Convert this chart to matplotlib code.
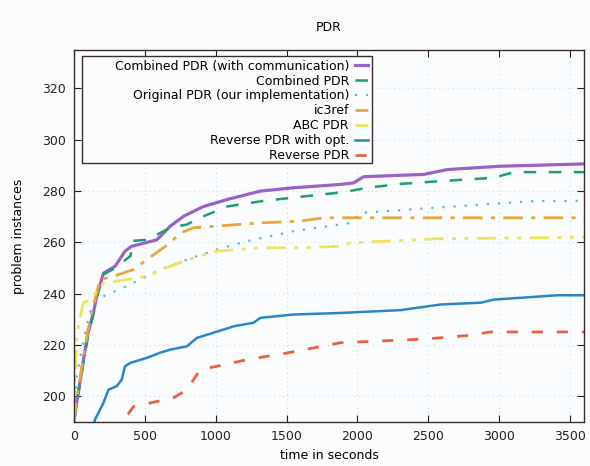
#!/usr/bin/env python3

import matplotlib
matplotlib.use("Agg")
import matplotlib.pyplot as plt
from matplotlib.patches import Rectangle

# Combined PDR (with communication)
comm_t = [0, 5, 19, 60, 100, 137, 160, 208, 290, 360, 408, 585, 679, 773, 915, 1080, 1315, 1550,
          1881, 1973, 2044, 2468, 2635, 3013, 3600]
comm_v = [190, 192, 197.5, 212, 225, 232.5, 239, 248, 250.7, 256.6, 258.5, 261, 266.3, 270.2,
          274, 276.7, 280, 281.3, 282.6, 283.2, 285.6, 286.5, 288.4, 289.7, 290.6]

# Combined PDR
comb_t = [0, 5, 19, 60, 100, 137, 160, 208, 290, 400, 410, 514, 679, 797, 915, 1080, 1315, 1598,
          1904, 2070, 2305, 2588, 2963, 3105, 3600]
comb_v = [190, 192, 197, 211, 224, 232, 238.5, 247.5, 250, 254.8, 260.6, 261, 265.7, 267, 270.2,
          274, 276, 277.8, 279.6, 281.3, 282.8, 283.9, 285.2, 287.4, 287.4]

# Original PDR (our implementation)
orig_t = [0, 10, 19, 60, 100, 135, 208, 373, 608, 797, 1009, 1221, 1550, 1881, 1952, 2023,
          2540, 3246, 3600]
orig_v = [190, 200, 207.8, 220, 230, 236.5, 239, 243, 249.4, 253.3, 257.2, 260.5, 264.4, 267,
          267.6, 271.5, 273.5, 276.1, 276.2]

# ic3ref
ic3_t = [0, 5, 19, 60, 100, 140, 184, 278, 420, 514, 679, 750, 844, 1315, 1598, 1763, 3600]
ic3_v = [190, 193, 199, 213, 226, 236, 245.5, 246.8, 249.4, 253.3, 259.8, 263.7, 265.7, 267.6,
         268.3, 269.6, 269.6]

# ABC PDR
abc_t = [0, 5, 19, 40, 66, 113, 208, 373, 514, 679, 844, 1009, 1315, 1598, 1881, 1952, 2540, 3600]
abc_v = [190, 205, 223.4, 230, 236.4, 237.7, 244.2, 245.5, 246.8, 250.7, 254, 256.6, 257.9,
         257.9, 258.5, 259.8, 261.4, 262]

# Reverse PDR with opt.
ropt_t = [130, 148, 208, 243, 302, 337, 360, 396, 514, 608, 679, 797, 868, 985, 1127, 1268, 1315,
          1551, 1881, 2305, 2588, 2871, 2963, 3413, 3600]
ropt_v = [186, 190.9, 197.5, 202.6, 204, 206.5, 211.7, 213, 215, 217, 218.2, 219.5, 222.8, 224.8,
          227.3, 228.7, 230.6, 231.9, 232.5, 233.6, 235.8, 236.5, 237.7, 239.4, 239.4]

# Reverse PDR
rev_t = [280, 302, 420, 702, 797, 891, 1009, 1221, 1504, 1881, 2494, 2777, 2942, 3600]
rev_v = [185, 187, 196, 199.4, 202.6, 210.5, 211.7, 214.3, 216.9, 220.9, 222.4, 223.7, 225.1, 225.1]

labels = ["Combined PDR (with communication)", "Combined PDR", "Original PDR (our implementation)",
          "ic3ref", "ABC PDR", "Reverse PDR with opt.", "Reverse PDR"]

plt.rcParams["font.family"] = "DejaVu Sans"
plt.rcParams["font.size"] = 9

bg = "#fbfcfd"
edge = "#3a2c2c"

fig = plt.figure(figsize=(5.9, 4.66), dpi=100, facecolor=bg)
ax = fig.add_axes([74 / 590, 1 - 422 / 466, (584 - 74) / 590, (422 - 50) / 466])
ax.set_facecolor(bg)

ax.plot(comm_t, comm_v, color="#9a62c4", lw=2.3, label=labels[0])
ax.plot(comb_t, comb_v, color="#1a9e78", lw=1.8, dashes=(5, 5), label=labels[1])
ax.plot(orig_t, orig_v, color="#5bb5e8", lw=1.6, dashes=(1, 4), label=labels[2])
ax.plot(ic3_t, ic3_v, color="#e8a73a", lw=2.0, dashes=(7, 3, 1.5, 3), label=labels[3])
ax.plot(abc_t, abc_v, color="#ece45a", lw=2.0, dashes=(7, 3, 1.5, 3, 1.5, 3), label=labels[4])
ax.plot(ropt_t, ropt_v, color="#2b86c8", lw=1.8, label=labels[5])
ax.plot(rev_t, rev_v, color="#ec6040", lw=2.0, dashes=(4, 5), label=labels[6])

ax.set_xlim(0, 3600)
ax.set_ylim(190, 335)
ax.set_xticks(range(0, 3501, 500))
ax.set_yticks(range(200, 321, 20))
ax.tick_params(direction="in", length=5, top=True, right=True, colors="#222222",
               labelsize=9, pad=6)
for s in ax.spines.values():
    s.set_color(edge)
    s.set_linewidth(1.0)
ax.grid(True, color="#c6e0ef", linestyle=(0, (1, 3)), linewidth=0.8)

ax.set_title("PDR", fontsize=9, pad=14)
ax.set_xlabel("time in seconds", fontsize=9)
ax.set_ylabel("problem instances", fontsize=9, labelpad=12)

# gnuplot-like key box, wider than the text block
box = Rectangle((82 / 590, 1 - 163 / 466), 290 / 590, 107 / 466, transform=fig.transFigure,
                facecolor=bg, edgecolor=edge, linewidth=1.0, zorder=4.9)
ax.add_artist(box)
box.set_clip_on(False)

leg = ax.legend(loc="upper right", bbox_to_anchor=(372 / 590, 1 - 56 / 466),
                bbox_transform=fig.transFigure, markerfirst=False, frameon=False,
                handlelength=1.1, handletextpad=0.45, labelspacing=0.15, borderpad=0.3,
                borderaxespad=0, fontsize=9)
leg.set_zorder(5)

plt.savefig("out.png", dpi=100, facecolor=fig.get_facecolor())
